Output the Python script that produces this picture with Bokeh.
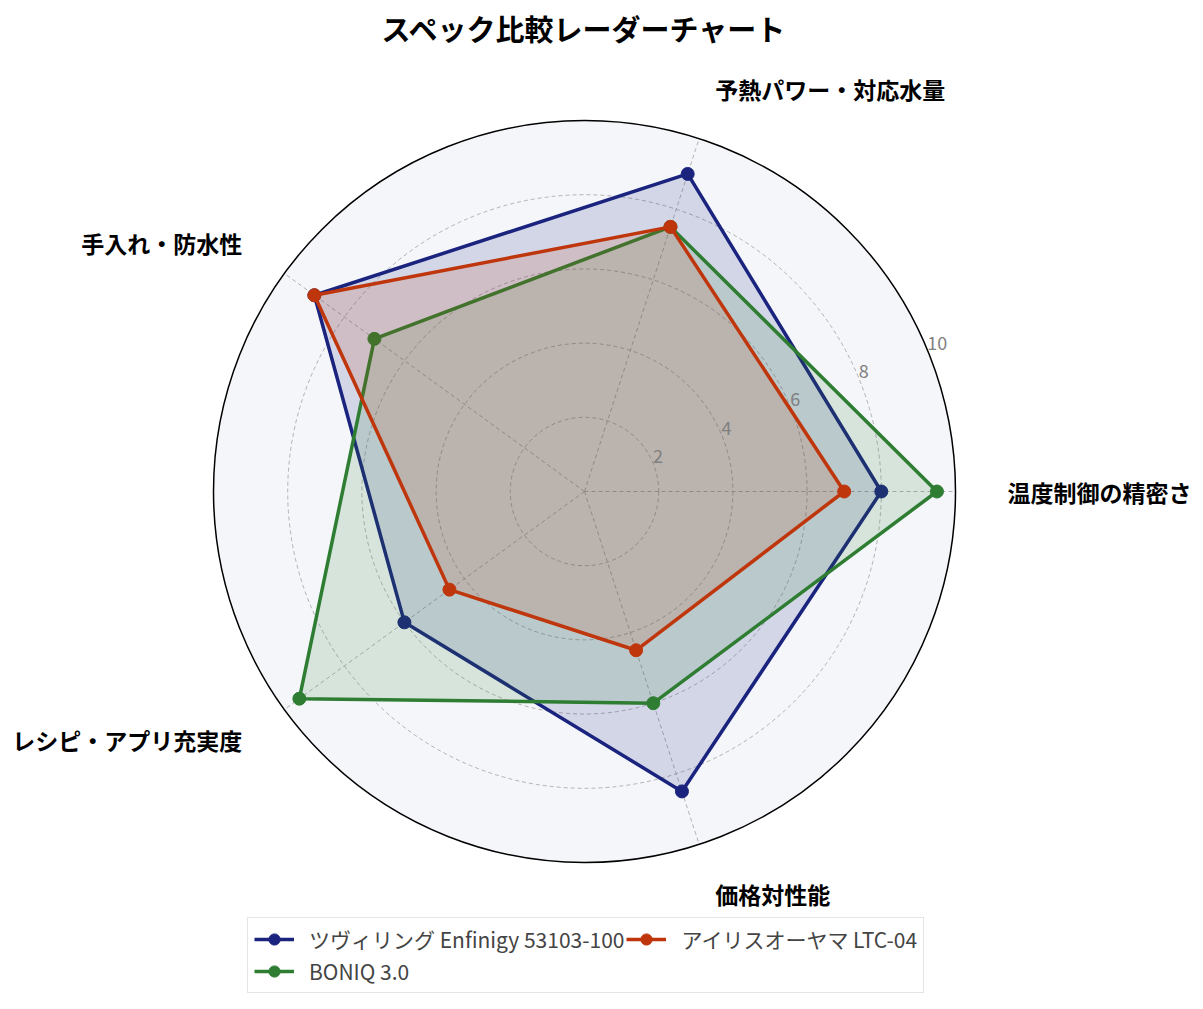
import numpy as np
from bokeh.plotting import figure
from bokeh.models import Legend, LegendItem, Label
from bokeh.embed import file_html
from bokeh.resources import INLINE
from bokeh.core.properties import value

# ---------------- data ----------------
categories = ["温度制御の精密さ", "予熱パワー・対応水量", "手入れ・防水性",
              "レシピ・アプリ充実度", "価格対性能"]
series_names = ["ツヴィリング Enfinigy 53103-100", "BONIQ 3.0", "アイリスオーヤマ LTC-04"]
zwilling = [8, 9, 9, 6, 8.5]
boniq = [9.5, 7.5, 7, 9.5, 6]
iris = [7, 7.5, 9, 4.5, 4.5]
series_values = [zwilling, boniq, iris]
colors = ["#1a237e", "#2e7d32", "#bf360c"]
r_ticks = [2, 4, 6, 8, 10]
r_tick_labels = ["2", "4", "6", "8", "10"]
r_max = 10
title = "スペック比較レーダーチャート"

FONT = "Noto Sans CJK JP"

# ---------------- layout ----------------
W, H = 1195, 1000
scale = 37.1      # px per unit
cx, cy = 584, 491  # centre in canvas px
x_range = (-cx / scale, (W - cx) / scale)
y_range = (-(H - cy) / scale, cy / scale)

p = figure(width=W, height=H, x_range=x_range, y_range=y_range,
           output_backend="svg", toolbar_location=None, min_border=0)
p.axis.visible = False
p.grid.visible = False
p.outline_line_color = None
p.background_fill_color = "white"

n = len(categories)
angles = np.arange(n) * 2 * np.pi / n

# background disc
p.circle(x=[0], y=[0], radius=r_max, fill_color="#f4f6fa", line_color=None)
# grid circles
p.circle(x=[0] * 4, y=[0] * 4, radius=r_ticks[:-1], fill_color=None,
         line_color="#aaaaaa", line_dash="4 3", line_width=0.9)
# spokes
p.segment(x0=[0] * n, y0=[0] * n, x1=list(r_max * np.cos(angles)),
          y1=list(r_max * np.sin(angles)), line_color="#aaaaaa",
          line_dash="4 3", line_width=0.9)
# outer circle
p.circle(x=[0], y=[0], radius=r_max, fill_color=None, line_color="black",
         line_width=1.5)

items = []
for name, vals, col in zip(series_names, series_values, colors):
    v = np.array(vals + vals[:1], dtype=float)
    a = np.concatenate([angles, angles[:1]])
    xs = v * np.cos(a)
    ys = v * np.sin(a)
    p.patch(x=list(xs), y=list(ys), fill_color=col, fill_alpha=0.15, line_color=None)
    ln = p.line(x=list(xs), y=list(ys), line_color=col, line_width=3.5)
    sc = p.scatter(x=list(xs[:-1]), y=list(ys[:-1]), size=13, fill_color=col,
                   line_color=col, marker="circle")
    items.append(LegendItem(label=name, renderers=[ln, sc]))

# category labels
lab_r = 11.4
lx, ly, lt, rx, ry, rt = [], [], [], [], [], []
for cat, ang in zip(categories, angles):
    x = lab_r * np.cos(ang)
    y = lab_r * np.sin(ang)
    if np.cos(ang) > 0.01:
        lx.append(x); ly.append(y); lt.append(cat)
    else:
        rx.append(x); ry.append(y); rt.append(cat)
p.text(x=lx, y=ly, text=lt, text_align="left", text_baseline="middle",
       text_font=value(FONT), text_font_size="23px", text_font_style="bold",
       text_color="black")
p.text(x=rx, y=ry, text=rt, text_align="right", text_baseline="middle",
       text_font=value(FONT), text_font_size="23px", text_font_style="bold",
       text_color="black")

# radial tick labels
rl_ang = np.deg2rad(22.5)
p.text(x=[r * np.cos(rl_ang) for r in r_ticks], y=[r * np.sin(rl_ang) for r in r_ticks],
       text=r_tick_labels, text_align="left", text_baseline="bottom",
       text_font=value(FONT), text_font_size="18px", text_color="#808080")

# title
p.add_layout(Label(x=0, y=H - 27, x_units="data", y_units="screen",
                   text=title, text_align="center", text_baseline="middle",
                   text_font=FONT, text_font_size="29px", text_font_style="bold",
                   text_color="black"))

legend = Legend(items=items, location=(247, 7), orientation="vertical",
                nrows=2, margin=0, padding=6, spacing=2,
                label_standoff=15,
                label_text_font=FONT, label_text_font_size="21px",
                glyph_width=40, glyph_height=28, label_height=28,
                border_line_color="#cccccc", border_line_width=1.5,
                background_fill_color="white", background_fill_alpha=1.0)
p.add_layout(legend, "center")

open("out.html", "w").write(file_html(p, INLINE))
